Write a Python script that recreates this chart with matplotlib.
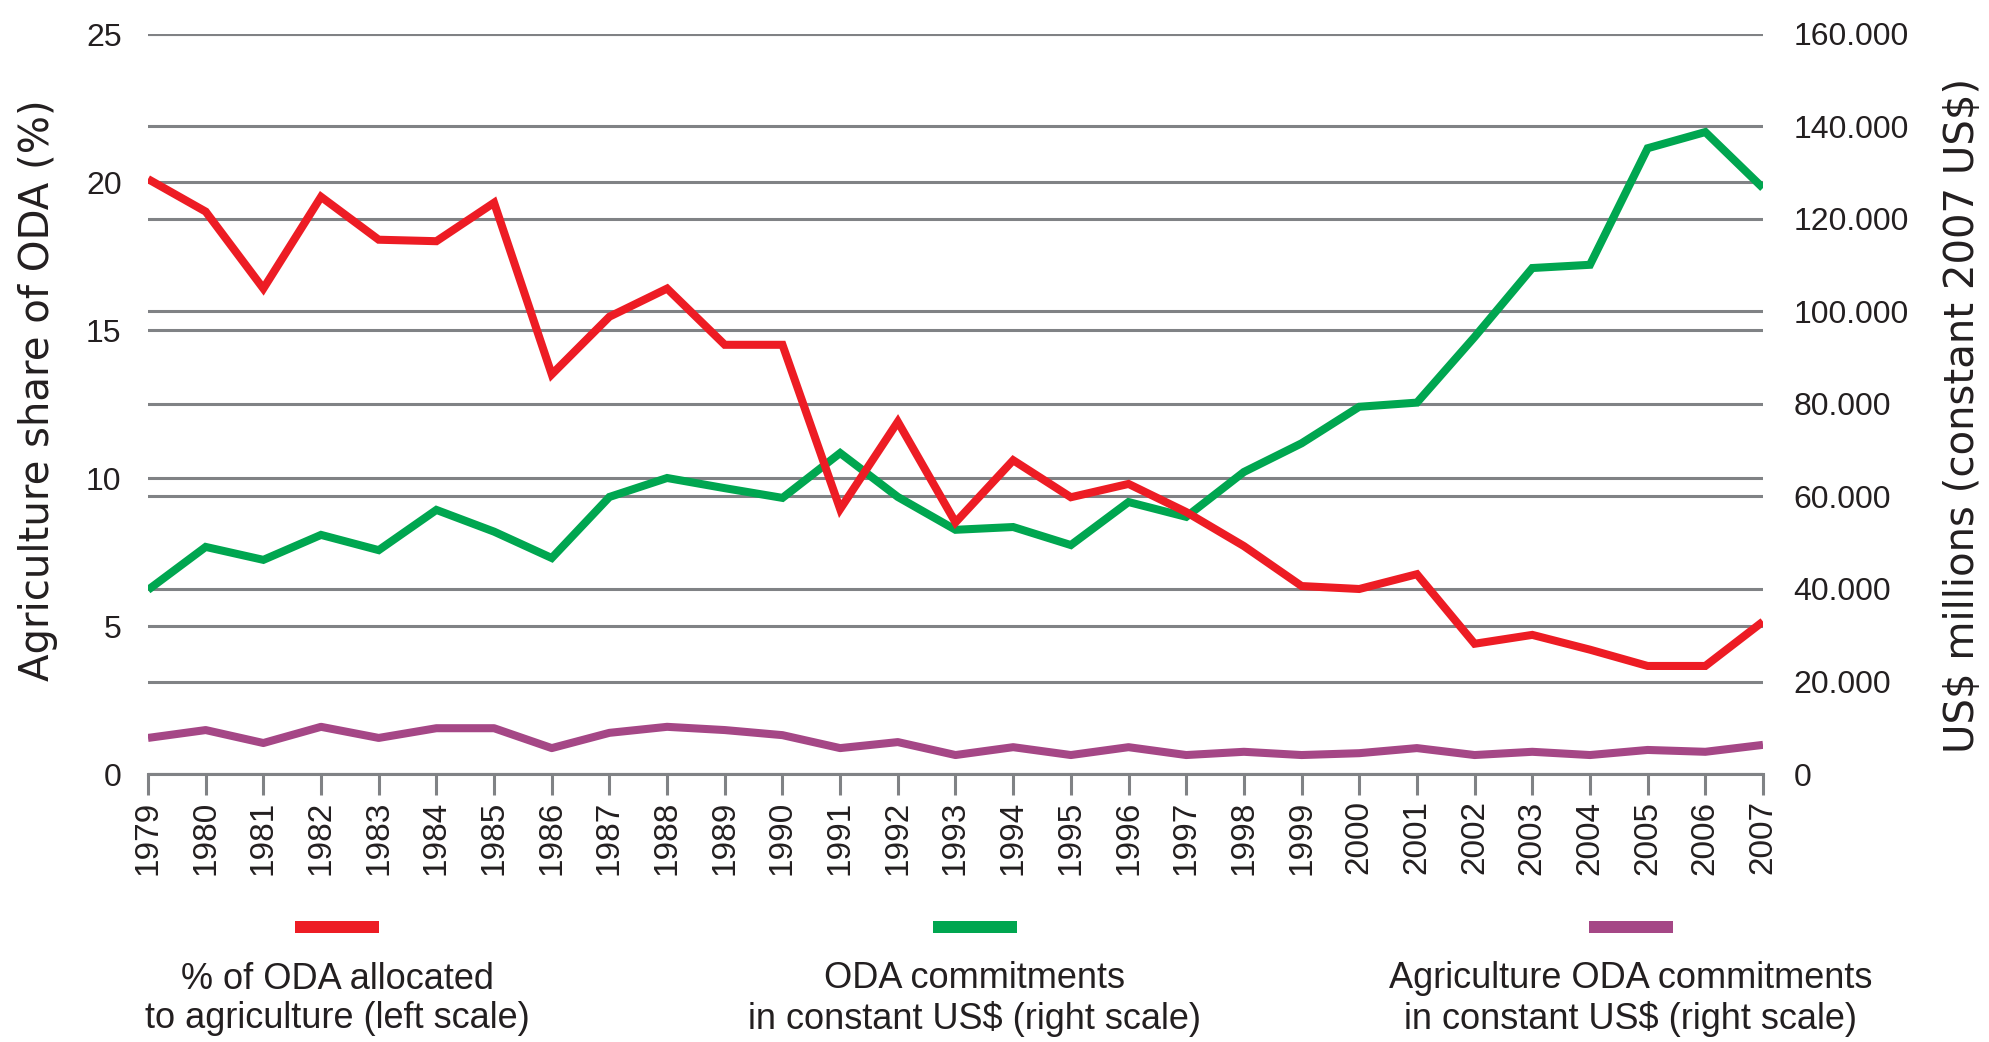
import numpy as np
import matplotlib
matplotlib.use("Agg")
import matplotlib.pyplot as plt
from matplotlib.patches import Rectangle

# Data
years = list(range(1979, 2008))

# % of ODA allocated to agriculture (left scale)
agri_share = [20.1, 19.0, 16.4, 19.5, 18.05, 18.0, 19.3, 13.5, 15.45, 16.4,
              14.5, 14.5, 8.95, 11.9, 8.5, 10.6, 9.35, 9.8, 8.85, 7.7,
              6.35, 6.25, 6.75, 4.4, 4.7, 4.2, 3.65, 3.65, 5.15]

# ODA commitments in constant US$ millions (right scale)
oda_total = [39800, 49100, 46300, 51700, 48400, 57100, 52400, 46700, 59900, 64000,
             61800, 59700, 69400, 59900, 52800, 53400, 49500, 58800, 55600, 65300,
             71500, 79400, 80300, 94500, 109400, 110100, 135300, 138800, 126700]

# Agriculture ODA commitments in constant US$ millions (right scale)
oda_agri = [7800, 9500, 6700, 10200, 7800, 9900, 9900, 5600, 8900, 10200,
            9500, 8400, 5600, 6900, 4100, 5800, 4100, 5800, 4100, 4800,
            4100, 4500, 5600, 4100, 4800, 4100, 5200, 4800, 6300]

left_ticks = [0, 5, 10, 15, 20, 25]
right_ticks = [0, 20000, 40000, 60000, 80000, 100000, 120000, 140000, 160000]
right_labels = ["0", "20.000", "40.000", "60.000", "80.000",
                "100.000", "120.000", "140.000", "160.000"]

legend_labels = ["% of ODA allocated\nto agriculture (left scale)",
                 "ODA commitments\nin constant US\\$ (right scale)",
                 "Agriculture ODA commitments\nin constant US\\$ (right scale)"]

RED = "#ED1C24"
GREEN = "#00A650"
PURPLE = "#A54786"
GRID = "#808285"
TEXT = "#231F20"
NUM = "Liberation Sans"

W, H = 1990, 1042
fig = plt.figure(figsize=(W / 100, H / 100), dpi=100)
ax = fig.add_axes([148 / W, 1 - 774 / H, (1763 - 148) / W, (774 - 34) / H])
ax2 = ax.twinx()

ax.set_xlim(1979, 2007)
ax.set_ylim(0, 25)
ax2.set_ylim(0, 160000)

for a in (ax, ax2):
    for s in a.spines.values():
        s.set_visible(False)
    a.set_axisbelow(True)
    a.grid(axis="y", color=GRID, linewidth=2.2)
    a.grid(axis="x", visible=False)

ax.spines["bottom"].set_visible(True)
ax.spines["bottom"].set_color(GRID)
ax.spines["bottom"].set_linewidth(2.2)

# lines
lw = 5.8
ax2.plot(years, oda_total, color=GREEN, lw=lw, solid_joinstyle="miter",
         solid_capstyle="butt", zorder=3)
ax2.plot(years, oda_agri, color=PURPLE, lw=lw, solid_joinstyle="round",
         solid_capstyle="butt", zorder=3)
ax2.plot(years, agri_share, color=RED, lw=lw, solid_joinstyle="miter",
         solid_capstyle="butt", transform=ax.transData, zorder=4)

# ticks
ax.set_xticks(years)
ax.set_xticklabels([str(y) for y in years], rotation=90, fontsize=24,
                   family=NUM, color=TEXT)
ax.tick_params(axis="x", length=15, width=2.2, color=GRID, pad=4)

ax.set_yticks(left_ticks)
ax.set_yticklabels([str(t) for t in left_ticks], fontsize=23, family=NUM, color=TEXT)
ax.tick_params(axis="y", length=0, pad=19)

ax2.set_yticks(right_ticks)
ax2.set_yticklabels(right_labels, fontsize=23, family=NUM, color=TEXT)
ax2.tick_params(axis="y", length=0, pad=22)

# axis titles
fig.text(38 / W, 1 - 390 / H, "Agriculture share of ODA (%)", rotation=90,
         ha="center", va="center", fontsize=29, family="DejaVu Sans", color=TEXT)
fig.text(1963 / W, 1 - 415 / H, "US\\$ millions (constant 2007 US\\$)", rotation=90,
         ha="center", va="center", fontsize=29, family="DejaVu Sans", color=TEXT)

# legend below the chart
centers = [337 / W, 975 / W, 1631 / W]
colors = [RED, GREEN, PURPLE]
sw, sh = 84 / W, 12 / H
for cx, col, lab in zip(centers, colors, legend_labels):
    fig.patches.append(Rectangle((cx - sw / 2, 1 - 933 / H), sw, sh,
                                 transform=fig.transFigure, facecolor=col,
                                 edgecolor="none"))
    fig.text(cx, 1 - 999 / H, lab, ha="center", va="center", fontsize=26,
             family=NUM, color=TEXT, linespacing=1.15)

fig.savefig("out.png", dpi=100)
